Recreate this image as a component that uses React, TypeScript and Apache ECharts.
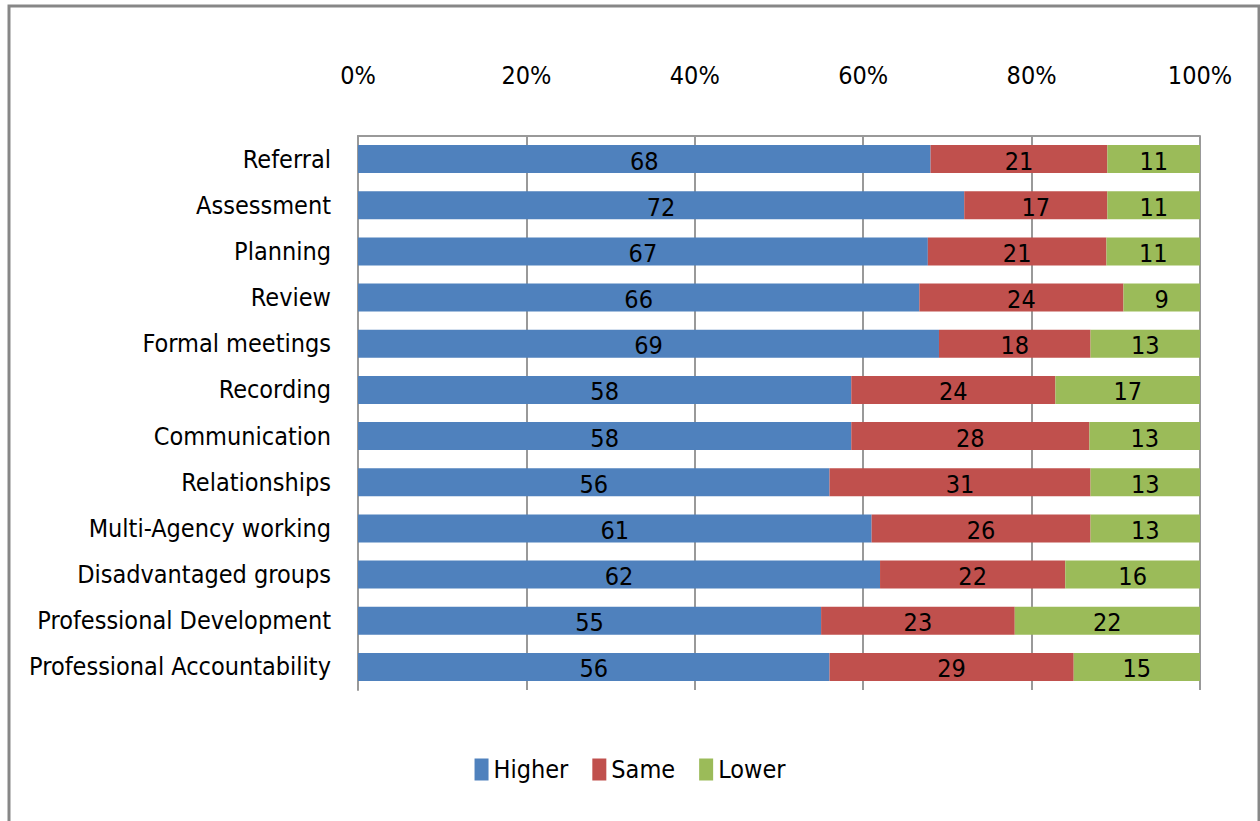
import React, { useEffect, useRef } from "react";
import * as echarts from "echarts";

const categories = [
  "Referral",
  "Assessment",
  "Planning",
  "Review",
  "Formal meetings",
  "Recording",
  "Communication",
  "Relationships",
  "Multi-Agency working",
  "Disadvantaged groups",
  "Professional Development",
  "Professional Accountability",
];
const higher = [68, 72, 67, 66, 69, 58, 58, 56, 61, 62, 55, 56];
const same = [21, 17, 21, 24, 18, 24, 28, 31, 26, 22, 23, 29];
const lower = [11, 11, 11, 9, 13, 17, 13, 13, 13, 16, 22, 15];
const seriesNames = ["Higher", "Same", "Lower"];
const colors = ["#4F81BD", "#C0504D", "#9BBB59"];

const FONT = "'Liberation Sans Narrow', 'DejaVu Sans Condensed', 'Arial Narrow', sans-serif";

export default function App() {
  const ref = useRef<HTMLDivElement>(null);
  useEffect(() => {
    if (!ref.current) return;
    const chart = echarts.init(ref.current, undefined, { renderer: "svg" });
    const raw = [higher, same, lower];
    const totals = categories.map((_, i) => higher[i] + same[i] + lower[i]);
    const series = raw.map((arr, si) => ({
      name: seriesNames[si],
      type: "bar",
      stack: "total",
      barWidth: 28,
      itemStyle: { color: colors[si] },
      label: {
        show: true,
        position: "inside",
        color: "#000",
        fontFamily: FONT,
        fontSize: 25,
        offset: [0, 2],
        formatter: (p: any) => String(arr[p.dataIndex]),
      },
      data: arr.map((v, i) => (v / totals[i]) * 100),
    }));
    chart.setOption({
      animation: false,
      backgroundColor: "#fff",
      textStyle: { fontFamily: FONT },
      graphic: [
        {
          type: "rect",
          shape: { x: 9, y: 6, width: 1250, height: 840 },
          style: { fill: "none", stroke: "#878787", lineWidth: 3 },
          silent: true,
        },
      ],
      grid: {
        left: 358,
        right: 60,
        top: 136,
        bottom: 131,
        containLabel: false,
        outerBoundsMode: "none",
      },
      legend: {
        bottom: 34,
        left: "center",
        itemWidth: 14,
        itemHeight: 22,
        itemGap: 24,
        icon: "rect",
        textStyle: { fontFamily: FONT, fontSize: 25, color: "#000" },
        data: seriesNames,
      },
      xAxis: {
        type: "value",
        position: "top",
        min: 0,
        max: 100,
        interval: 20,
        axisLabel: {
          formatter: "{value}%",
          fontFamily: FONT,
          fontSize: 25,
          color: "#000",
          margin: 48,
        },
        axisLine: { show: true, lineStyle: { color: "#999", width: 2 } },
        axisTick: { show: false },
        splitLine: { show: true, lineStyle: { color: "#999", width: 2 } },
      },
      yAxis: {
        type: "category",
        inverse: true,
        data: categories,
        axisLabel: {
          fontFamily: FONT,
          fontSize: 25,
          color: "#000",
          margin: 27,
        },
        axisLine: { show: true, lineStyle: { color: "#999", width: 2 } },
        axisTick: { show: false },
      },
      series,
    });
    return () => chart.dispose();
  }, []);
  return (
    <div
      ref={ref}
      style={{ position: "absolute", left: 0, top: 0, width: 1260, height: 821 }}
    />
  );
}
